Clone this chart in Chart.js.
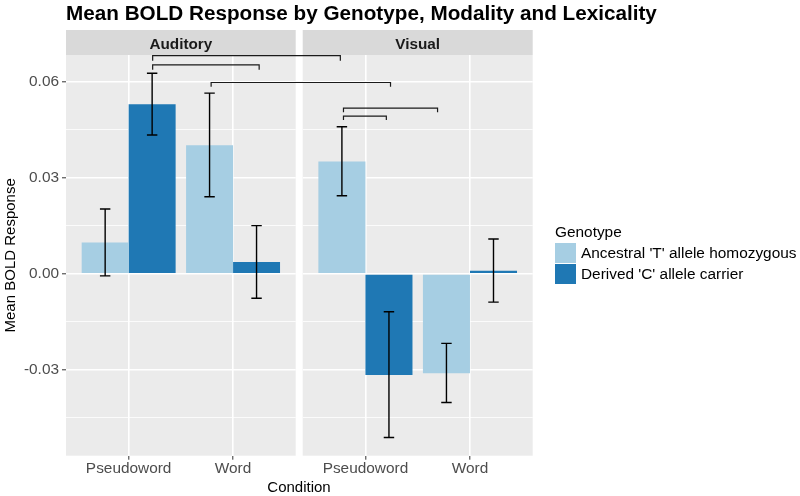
<!DOCTYPE html>
<html>
<head>
<meta charset="utf-8">
<script src="https://cdn.jsdelivr.net/npm/chart.js@4.4.0/dist/chart.umd.min.js"></script>
<style>
  body { margin: 0; background: #fff; font-family: "Liberation Sans", Arial, sans-serif; }
  #wrap { position: relative; width: 800px; height: 496px; overflow: hidden; }
  #wrap canvas { position: absolute; left: 0; top: 0; }
  .title { position: absolute; left: 66px; top: 1px; font-size: 20.7px; font-weight: bold; color: #000; white-space: nowrap; }
  .xtitle { position: absolute; left: 199px; width: 200px; top: 478px; text-align: center; font-size: 15px; line-height: 18px; color: #000; }
  #legend { position: absolute; left: 555px; top: 223px; font-size: 15.4px; line-height: 18px; color: #000; }
  #legend .item { position: absolute; left: 0; white-space: nowrap; }
  #legend .key { position: absolute; left: 0; width: 21px; height: 20px; }
  #legend .lab { position: absolute; left: 26px; top: 1px; }
</style>
</head>
<body>
<div id="wrap">
  <canvas id="auditory" width="800" height="496"></canvas>
  <canvas id="visual" width="800" height="496"></canvas>
  <div class="title">Mean BOLD Response by Genotype, Modality and Lexicality</div>
  <div class="xtitle">Condition</div>
  <div id="legend"><div style="white-space:nowrap">Genotype</div></div>
</div>
<script>
const conditions = ["Pseudoword", "Word"];
const modalities = ["Auditory", "Visual"];
const genotypes = ["Ancestral 'T' allele homozygous", "Derived 'C' allele carrier"];
const genotypeColors = ["#A6CEE3", "#1F78B4"];
const yTicks = [-0.03, 0.0, 0.03, 0.06];

// means, [Pseudoword, Word]
const auditoryT = [0.0098, 0.0402];
const auditoryC = [0.0530, 0.0037];
const visualT = [0.0351, -0.0310];
const visualC = [-0.0316, 0.0010];

// error bar ends
const auditoryTLow = [-0.0006, 0.0241];
const auditoryTHigh = [0.0203, 0.0565];
const auditoryCLow = [0.0434, -0.0076];
const auditoryCHigh = [0.0627, 0.0151];
const visualTLow = [0.0244, -0.0402];
const visualTHigh = [0.0460, -0.0217];
const visualCLow = [-0.0511, -0.0088];
const visualCHigh = [-0.0118, 0.0109];

// significance brackets: [panel, x] of both ends, y of the bar and of the feet
const bracketStart = [[0, 1.23], [0, 1.23], [0, 1.79], [1, 0.79], [1, 0.79]];
const bracketEnd = [[1, 0.76], [0, 2.25], [1, 1.24], [1, 1.69], [1, 1.20]];
const bracketTop = [0.0682, 0.0653, 0.0598, 0.0518, 0.0493];
const bracketFoot = [0.0666, 0.0638, 0.0585, 0.0505, 0.0481];

const yMin = -0.0568;
const yMax = 0.0684;

Chart.defaults.font.family = '"Liberation Sans", Arial, sans-serif';

function isMajor(v) {
  return yTicks.some((t) => Math.abs(t - v) < 1e-9);
}

function points(values) {
  return values.map((v, i) => ({ x: i + 1, y: v }));
}

// grey panel + facet strip
const panelPlugin = {
  id: "panel",
  beforeDraw(chart, args, opts) {
    const a = chart.chartArea;
    const ctx = chart.ctx;
    ctx.save();
    ctx.fillStyle = "#EBEBEB";
    ctx.fillRect(a.left, a.top, a.right - a.left, a.bottom - a.top);
    ctx.fillStyle = "#D9D9D9";
    ctx.fillRect(a.left, a.top - 25, a.right - a.left, 25);
    ctx.fillStyle = "#1A1A1A";
    ctx.font = 'bold 15.3px "Liberation Sans", Arial, sans-serif';
    ctx.textAlign = "center";
    ctx.textBaseline = "alphabetic";
    ctx.fillText(opts.label, (a.left + a.right) / 2, a.top - 6);
    ctx.restore();
  },
};

const errorBarPlugin = {
  id: "errorBars",
  afterDatasetsDraw(chart) {
    const ctx = chart.ctx;
    const x = chart.scales.x;
    const y = chart.scales.y;
    const half = x.getPixelForValue(1.05) - x.getPixelForValue(1);
    ctx.save();
    ctx.strokeStyle = "#000";
    ctx.lineWidth = 1.4;
    chart.data.datasets.forEach((ds, i) => {
      chart.getDatasetMeta(i).data.forEach((bar, j) => {
        const lo = y.getPixelForValue(ds.errLow[j]);
        const hi = y.getPixelForValue(ds.errHigh[j]);
        ctx.beginPath();
        ctx.moveTo(bar.x, lo);
        ctx.lineTo(bar.x, hi);
        ctx.moveTo(bar.x - half, lo);
        ctx.lineTo(bar.x + half, lo);
        ctx.moveTo(bar.x - half, hi);
        ctx.lineTo(bar.x + half, hi);
        ctx.stroke();
      });
    });
    ctx.restore();
  },
};

let auditoryChart;

const bracketPlugin = {
  id: "brackets",
  afterDraw(chart) {
    const panels = [auditoryChart, chart];
    const y = chart.scales.y;
    const ctx = chart.ctx;
    ctx.save();
    ctx.strokeStyle = "#1A1A1A";
    ctx.lineWidth = 1.2;
    for (let i = 0; i < bracketTop.length; i++) {
      const x0 = panels[bracketStart[i][0]].scales.x.getPixelForValue(bracketStart[i][1]);
      const x1 = panels[bracketEnd[i][0]].scales.x.getPixelForValue(bracketEnd[i][1]);
      const yt = y.getPixelForValue(bracketTop[i]);
      const yf = y.getPixelForValue(bracketFoot[i]);
      ctx.beginPath();
      ctx.moveTo(x0, yf);
      ctx.lineTo(x0, yt);
      ctx.lineTo(x1, yt);
      ctx.lineTo(x1, yf);
      ctx.stroke();
    }
    ctx.restore();
  },
};

function makeChart(canvasId, label, tValues, cValues, tLow, tHigh, cLow, cHigh, left, right, showY, extraPlugins) {
  return new Chart(document.getElementById(canvasId), {
    type: "bar",
    data: {
      datasets: [
        {
          label: genotypes[0],
          data: points(tValues),
          errLow: tLow,
          errHigh: tHigh,
          backgroundColor: genotypeColors[0],
        },
        {
          label: genotypes[1],
          data: points(cValues),
          errLow: cLow,
          errHigh: cHigh,
          backgroundColor: genotypeColors[1],
        },
      ],
    },
    options: {
      responsive: false,
      animation: false,
      events: [],
      barPercentage: 1,
      categoryPercentage: 0.9,
      borderWidth: 0,
      layout: { padding: { left: left, right: 800 - right, top: 55, bottom: 0 } },
      plugins: {
        legend: { display: false },
        tooltip: { enabled: false },
        panel: { label: label },
      },
      scales: {
        x: {
          type: "linear",
          min: 0.4,
          max: 2.6,
          offset: false,
          border: { display: false },
          grid: {
            offset: false,
            color: "#FFFFFF",
            lineWidth: 1.6,
            tickColor: "#333333",
            tickLength: 4,
            tickWidth: 1,
          },
          ticks: {
            stepSize: 1,
            includeBounds: false,
            padding: 0,
            color: "#4D4D4D",
            font: { size: 15.4 },
            maxRotation: 0,
            autoSkip: false,
            callback: (v) => conditions[Math.round(v) - 1],
          },
          afterFit: (s) => { s.height = 40.3; },
        },
        y: {
          min: yMin,
          max: yMax,
          border: { display: false },
          grid: {
            color: "#FFFFFF",
            lineWidth: (c) => (isMajor(c.tick.value) ? 1.6 : 0.8),
            drawTicks: showY,
            tickColor: (c) => (isMajor(c.tick.value) ? "#333333" : "rgba(0,0,0,0)"),
            tickLength: 4,
            tickWidth: 1,
          },
          ticks: {
            display: showY,
            stepSize: 0.015,
            includeBounds: false,
            padding: 3,
            color: "#4D4D4D",
            font: { size: 15.4 },
            callback: (v) => (isMajor(v) ? v.toFixed(2) : ""),
          },
          title: {
            display: showY,
            text: "Mean BOLD Response",
            color: "#000",
            font: { size: 15 },
            padding: { top: 2, bottom: 0 },
          },
          afterFit: (s) => { s.width = showY ? 66 : 0; },
        },
      },
    },
    plugins: [panelPlugin, errorBarPlugin].concat(extraPlugins),
  });
}

auditoryChart = makeChart("auditory", modalities[0], auditoryT, auditoryC,
  auditoryTLow, auditoryTHigh, auditoryCLow, auditoryCHigh, 0, 295.7, true, []);
const visualChart = makeChart("visual", modalities[1], visualT, visualC,
  visualTLow, visualTHigh, visualCLow, visualCHigh, 302.7, 532.7, false, [bracketPlugin]);

// legend
const legend = document.getElementById("legend");
genotypes.forEach((g, i) => {
  const item = document.createElement("div");
  item.className = "item";
  item.style.top = (19.7 + i * 21.6) + "px";
  item.innerHTML = '<div class="key" style="background:' + genotypeColors[i] + '"></div>' +
    '<div class="lab"></div>';
  item.querySelector(".lab").textContent = g;
  legend.appendChild(item);
});
</script>
</body>
</html>
